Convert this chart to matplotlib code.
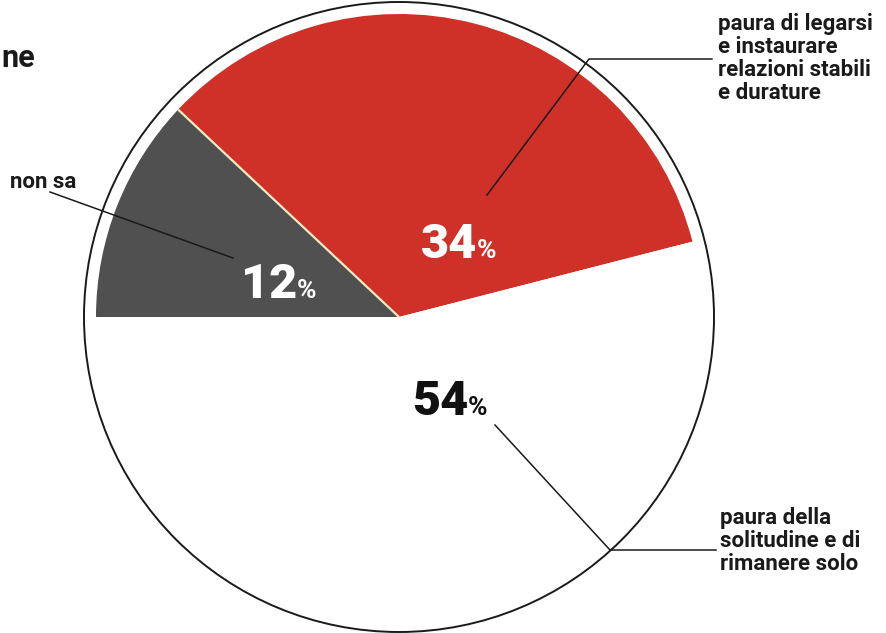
import matplotlib

matplotlib.use("Agg")
import matplotlib.pyplot as plt
import numpy as np
from matplotlib.patches import Circle

# survey shares, in drawing order (clockwise from 9 o'clock)
shares = [12, 34, 54]
answers = ["non sa",
           "paura di legarsi\ne instaurare\nrelazioni stabili\ne durature",
           "paura della\nsolitudine e di\nrimanere solo"]
slice_colors = ["#505050", "#cf3028", "#ffffff"]
pct_colors = ["white", "white", "#111111"]

W, H = 887, 633
FONT = "Roboto"
CX, CY = 399, 316          # pie centre, pixel coords (y up)
R_OUT, R_FILL = 315, 303   # outline ring and filled wedges

fig = plt.figure(figsize=(W / 100, H / 100), dpi=100, facecolor="white")
ax = fig.add_axes([0, 0, 1, 1])

wedges, _ = ax.pie(shares, colors=slice_colors, startangle=180, counterclock=False,
                   center=(CX, CY), radius=R_FILL, wedgeprops=dict(linewidth=0))
ax.add_patch(Circle((CX, CY), R_OUT, fill=False, edgecolor="#1a1a1a", linewidth=1.4))

# pale seam between the grey and red slices
a = np.deg2rad(180 - shares[0] * 3.6)
ax.plot([CX, CX + R_FILL * np.cos(a)], [CY, CY + R_FILL * np.sin(a)],
        color="#f1ebc4", linewidth=1.6, solid_capstyle="butt")

ax.set_xlim(0, W)
ax.set_ylim(0, H)
ax.set_aspect("equal")
ax.axis("off")


def y(v):
    return H - v


# percentage labels: big digits + small percent sign
pct_pos = [(297, 298), (477, 258), (468, 415)]
for v, (px, py), c in zip(shares, pct_pos, pct_colors):
    ax.text(px, y(py), str(v), ha="right", va="baseline", fontsize=35,
            fontweight="heavy", family=FONT, color=c)
    ax.text(px, y(py), "%", ha="left", va="baseline", fontsize=19,
            fontweight="bold", family=FONT, color=c)

# leader lines
lw, lc = 1.1, "#1a1a1a"
ax.plot([50, 233], [y(192), y(258)], color=lc, lw=lw)
ax.plot([487, 589, 712], [y(195), y(59), y(59)], color=lc, lw=lw)
ax.plot([495, 610, 716], [y(425), y(550), y(550)], color=lc, lw=lw)

# category labels
lab_kw = dict(fontsize=16, fontweight="bold", family=FONT, color="#1a1a1a",
              linespacing=1.05)
ax.text(10, y(182), answers[0], ha="left", va="center", **lab_kw)
ax.text(718, y(13), answers[1], ha="left", va="top", **lab_kw)
ax.text(720, y(507), answers[2], ha="left", va="top", **lab_kw)

# tail of the headline
ax.text(1, y(58), "ne", ha="left", va="center", fontsize=22,
        fontweight="bold", family=FONT, color="#1a1a1a")

fig.savefig("out.png", dpi=100, facecolor="white")
plt.close(fig)
